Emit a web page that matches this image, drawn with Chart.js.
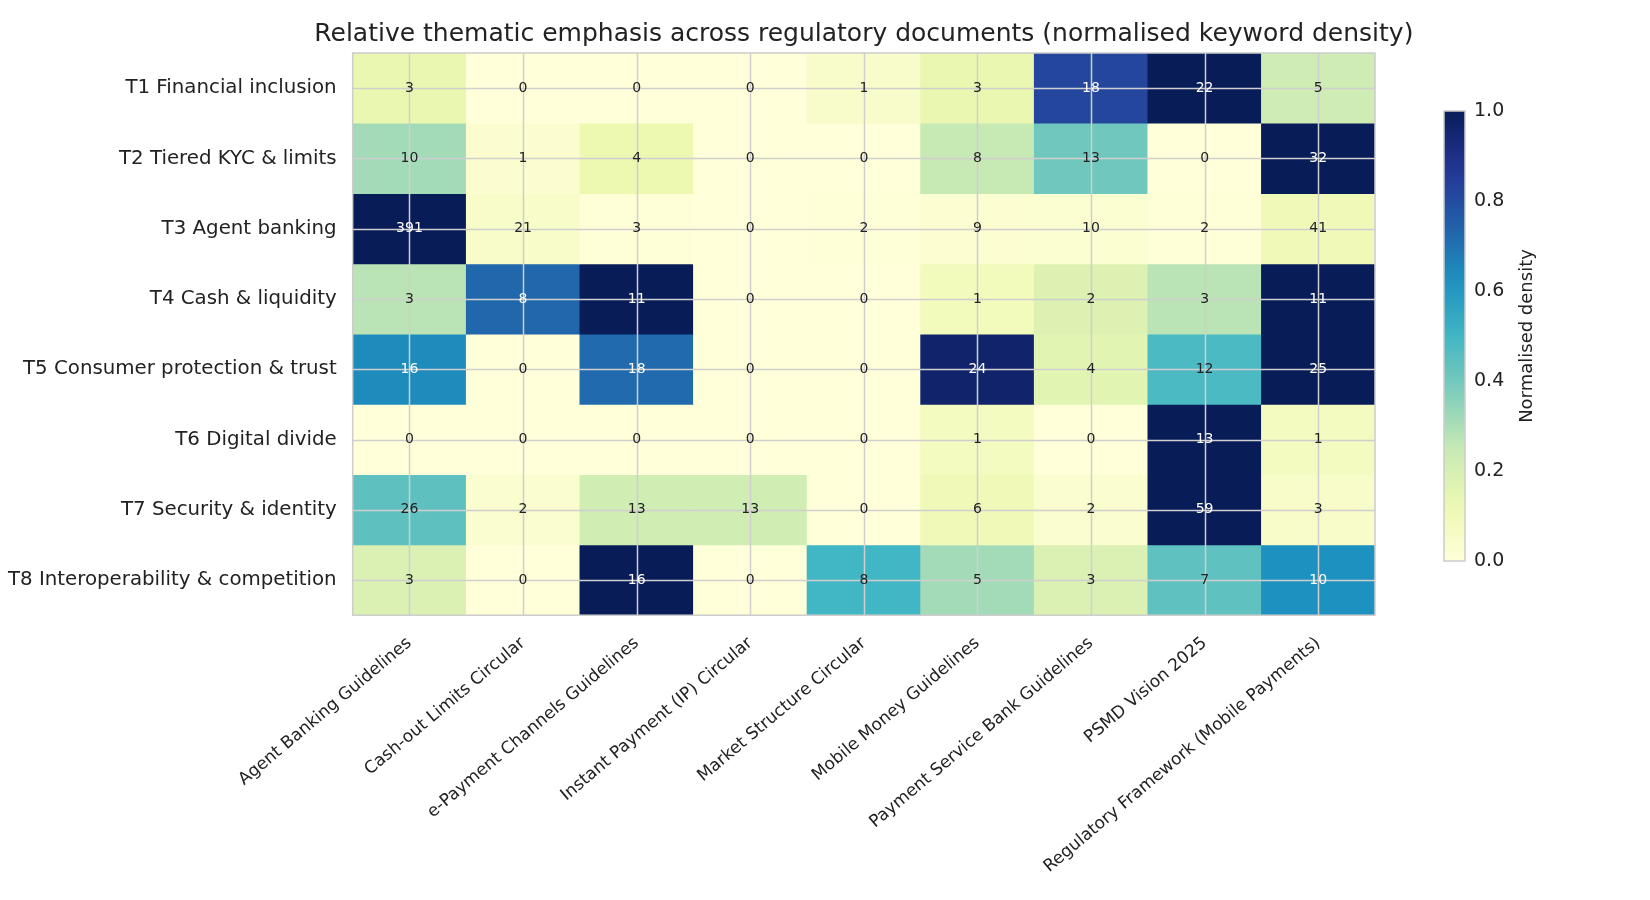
<!DOCTYPE html>
<html><head><meta charset="utf-8">
<script src="https://cdn.jsdelivr.net/npm/chart.js@4"></script>
<style>html,body{margin:0;padding:0;background:#fff}#w{width:1650px;height:900px}</style>
</head><body><div id="w"><canvas id="c"></canvas></div>
<script>
const documents=["Agent Banking Guidelines","Cash-out Limits Circular","e-Payment Channels Guidelines","Instant Payment (IP) Circular","Market Structure Circular","Mobile Money Guidelines","Payment Service Bank Guidelines","PSMD Vision 2025","Regulatory Framework (Mobile Payments)"];
const themes=["T1 Financial inclusion","T2 Tiered KYC & limits","T3 Agent banking","T4 Cash & liquidity","T5 Consumer protection & trust","T6 Digital divide","T7 Security & identity","T8 Interoperability & competition"];
const t1=[3,0,0,0,1,3,18,22,5];
const t2=[10,1,4,0,0,8,13,0,32];
const t3=[391,21,3,0,2,9,10,2,41];
const t4=[3,8,11,0,0,1,2,3,11];
const t5=[16,0,18,0,0,24,4,12,25];
const t6=[0,0,0,0,0,1,0,13,1];
const t7=[26,2,13,13,0,6,2,59,3];
const t8=[3,0,16,0,8,5,3,7,10];
const counts=[t1,t2,t3,t4,t5,t6,t7,t8];
const colorbarTicks=[0,0.2,0.4,0.6,0.8,1.0];
const titleText='Relative thematic emphasis across regulatory documents (normalised keyword density)';

const ylgnbu=["#ffffd9","#edf8b1","#c7e9b4","#7fcdbb","#41b6c4","#1d91c0","#225ea8","#253494","#081d58"].map(h=>[1,3,5].map(i=>parseInt(h.substr(i,2),16)));
function cmap(t){t=Math.max(0,Math.min(1,t));const p=t*8,i=Math.min(7,Math.floor(p)),f=p-i;const a=ylgnbu[i],b=ylgnbu[i+1];return `rgb(${a.map((v,k)=>Math.round(v+(b[k]-v)*f)).join(',')})`;}
const norm=counts.map(r=>{const m=Math.max(...r)||1;return r.map(v=>v/m);});

const datasets=counts.map((row,r)=>({
  label:themes[r],
  data:row.map(()=>[r,r+1]),
  backgroundColor:norm[r].map(cmap),
  borderWidth:0,grouped:false,categoryPercentage:1,barPercentage:1
}));

const labelPlugin={id:'lbl',afterDatasetsDraw(ch){const ctx=ch.ctx;const xs=ch.scales.x,ys=ch.scales.y,a=ch.chartArea;ctx.save();
  ctx.strokeStyle='#cfcfcf';ctx.lineWidth=1.5;ctx.beginPath();
  documents.forEach((_,i)=>{const x=Math.round(xs.getPixelForValue(i))+0.5;ctx.moveTo(x,a.top);ctx.lineTo(x,a.bottom);});
  themes.forEach((_,i)=>{const y=Math.round(ys.getPixelForValue(i+0.5))+0.5;ctx.moveTo(a.left,y);ctx.lineTo(a.right,y);});
  ctx.stroke();ctx.strokeStyle='#ccc';ctx.lineWidth=1.5;ctx.strokeRect(a.left,a.top,a.right-a.left,a.bottom-a.top);
  ctx.font='14px "DejaVu Sans"';ctx.textAlign='center';ctx.textBaseline='middle';
  ch.data.datasets.forEach((ds,r)=>{ch.getDatasetMeta(r).data.forEach((el,c)=>{ctx.fillStyle=norm[r][c]>0.6?'#fff':'#222';ctx.fillText(String(counts[r][c]),el.x,(el.y+el.base)/2);});});
  ctx.fillStyle='#222';ctx.font='25px "DejaVu Sans"';ctx.textBaseline='middle';ctx.fillText(titleText,(a.left+a.right)/2,34);
  ctx.restore();}};
const cbPlugin={id:'cb',afterDraw(ch){const ctx=ch.ctx;const x=1444,w=21,top=111,bot=561;ctx.save();
  const g=ctx.createLinearGradient(0,bot,0,top);for(let i=0;i<=20;i++)g.addColorStop(i/20,cmap(i/20));
  ctx.fillStyle=g;ctx.fillRect(x,top,w,bot-top);ctx.strokeStyle='#ccc';ctx.lineWidth=1.5;ctx.strokeRect(x,top,w,bot-top);
  ctx.fillStyle='#222';ctx.font='19px "DejaVu Sans"';ctx.textAlign='left';ctx.textBaseline='middle';
  colorbarTicks.forEach(t=>{const y=bot-(bot-top)*t;ctx.fillText(t.toFixed(1),x+w+9,y);});
  ctx.translate(1527,(top+bot)/2);ctx.rotate(-Math.PI/2);ctx.textAlign='center';ctx.font='18px "DejaVu Sans"';ctx.fillText('Normalised density',0,0);ctx.restore();}};

new Chart(document.getElementById('c'),{type:'bar',
 data:{labels:documents,datasets},
 options:{responsive:true,maintainAspectRatio:false,animation:false,
  layout:{padding:{left:0,right:275,top:53,bottom:13}},
  plugins:{legend:{display:false},tooltip:{enabled:false},title:{display:false}},
  scales:{
   x:{offset:true,grid:{display:false},border:{display:false},
      ticks:{font:{family:'DejaVu Sans',size:17},color:'#222',maxRotation:40,minRotation:40,padding:10}},
   y:{reverse:true,min:0,max:8,grid:{display:false},border:{display:false},
      afterBuildTicks(ax){ax.ticks=themes.map((_,i)=>({value:i+0.5}));},
      ticks:{font:{family:'DejaVu Sans',size:19.8},color:'#222',padding:8,callback:(v)=>themes[Math.floor(v)]}}
  }},
 plugins:[labelPlugin,cbPlugin]});
</script></body></html>
